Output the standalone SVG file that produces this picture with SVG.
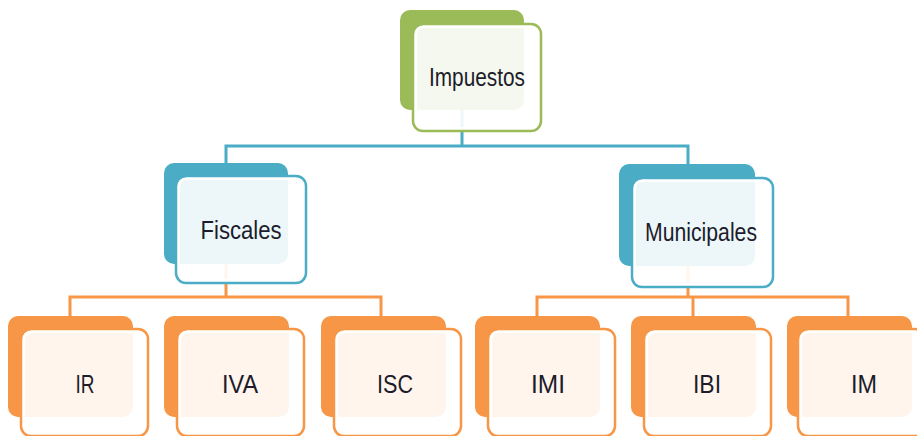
<svg xmlns="http://www.w3.org/2000/svg" width="917" height="436" viewBox="0 0 917 436">
<style>
.bg{fill:#ffffff}
.g .back{fill:#9bbb59}
.b .back{fill:#4bacc6}
.o .back{fill:#f79646}
.front{fill:#ffffff;fill-opacity:0.9;stroke:#ffffff;stroke-width:3}
.g .edge{fill:none;stroke:#9bbb59;stroke-width:2.5}
.b .edge{fill:none;stroke:#4bacc6;stroke-width:2.5}
.o .edge{fill:none;stroke:#f79646;stroke-width:2.5}
.lbl{font-family:"Liberation Sans",Arial,sans-serif;font-size:26px;fill:#1c1c2a;text-anchor:middle}
.cb{fill:none;stroke:#4bacc6;stroke-width:3}
.co{fill:none;stroke:#f79646;stroke-width:3}
</style>
<rect class="bg" x="0" y="0" width="917" height="436"/>
<g id="connectors">
<path class="cb" d="M462 110 V146 M226 163 V146 H688 V164"/>
<path class="co" d="M226 264 V297 M70 316 V297 H381 V316"/>
<path class="co" d="M688 266 V297 M537 316 V297 H848 V316 M693 297 V316"/>
</g>
<g id="n-impuestos" class="g">
<rect class="back" x="400" y="10" width="124" height="100" rx="10"/>
<rect class="front" x="415.5" y="26.5" width="123" height="102" rx="8"/>
<rect class="edge" x="413" y="24" width="128" height="107" rx="10"/>
<text class="lbl" x="477" y="86" textLength="96" lengthAdjust="spacingAndGlyphs">Impuestos</text>
</g>
<g id="n-fiscales" class="b">
<rect class="back" x="164" y="163" width="124" height="101" rx="10"/>
<rect class="front" x="178.5" y="178.5" width="125" height="102" rx="8"/>
<rect class="edge" x="176" y="176" width="130" height="107" rx="10"/>
<text class="lbl" x="241" y="239" textLength="81" lengthAdjust="spacingAndGlyphs">Fiscales</text>
</g>
<g id="n-municipales" class="b">
<rect class="back" x="619" y="164" width="136" height="102" rx="10"/>
<rect class="front" x="634.5" y="180.5" width="136" height="104" rx="8"/>
<rect class="edge" x="632" y="178" width="141" height="109" rx="10"/>
<text class="lbl" x="701" y="241" textLength="112" lengthAdjust="spacingAndGlyphs">Municipales</text>
</g>
<g id="n-ir" class="o">
<rect class="back" x="8" y="316" width="125" height="101" rx="10"/>
<rect class="front" x="23.5" y="331.5" width="122" height="102" rx="8"/>
<rect class="edge" x="21" y="329" width="127" height="107" rx="10"/>
<text class="lbl" x="85" y="393" textLength="19" lengthAdjust="spacingAndGlyphs">IR</text>
</g>
<g id="n-iva" class="o">
<rect class="back" x="164" y="316" width="125" height="101" rx="10"/>
<rect class="front" x="179.5" y="331.5" width="122" height="102" rx="8"/>
<rect class="edge" x="177" y="329" width="127" height="107" rx="10"/>
<text class="lbl" x="240" y="393" textLength="36" lengthAdjust="spacingAndGlyphs">IVA</text>
</g>
<g id="n-isc" class="o">
<rect class="back" x="321" y="316" width="125" height="101" rx="10"/>
<rect class="front" x="336.5" y="331.5" width="122" height="102" rx="8"/>
<rect class="edge" x="334" y="329" width="127" height="107" rx="10"/>
<text class="lbl" x="395" y="393" textLength="36" lengthAdjust="spacingAndGlyphs">ISC</text>
</g>
<g id="n-imi" class="o">
<rect class="back" x="475" y="316" width="125" height="101" rx="10"/>
<rect class="front" x="490.5" y="331.5" width="122" height="102" rx="8"/>
<rect class="edge" x="488" y="329" width="127" height="107" rx="10"/>
<text class="lbl" x="548" y="393" textLength="34" lengthAdjust="spacingAndGlyphs">IMI</text>
</g>
<g id="n-ibi" class="o">
<rect class="back" x="631" y="316" width="125" height="101" rx="10"/>
<rect class="front" x="646.5" y="331.5" width="122" height="102" rx="8"/>
<rect class="edge" x="644" y="329" width="127" height="107" rx="10"/>
<text class="lbl" x="707" y="393" textLength="28" lengthAdjust="spacingAndGlyphs">IBI</text>
</g>
<g id="n-im" class="o">
<rect class="back" x="787" y="316" width="125" height="101" rx="10"/>
<rect class="front" x="800.5" y="331.5" width="122" height="102" rx="8"/>
<rect class="edge" x="798" y="329" width="127" height="107" rx="10"/>
<text class="lbl" x="864" y="393" textLength="26" lengthAdjust="spacingAndGlyphs">IM</text>
</g>
</svg>
